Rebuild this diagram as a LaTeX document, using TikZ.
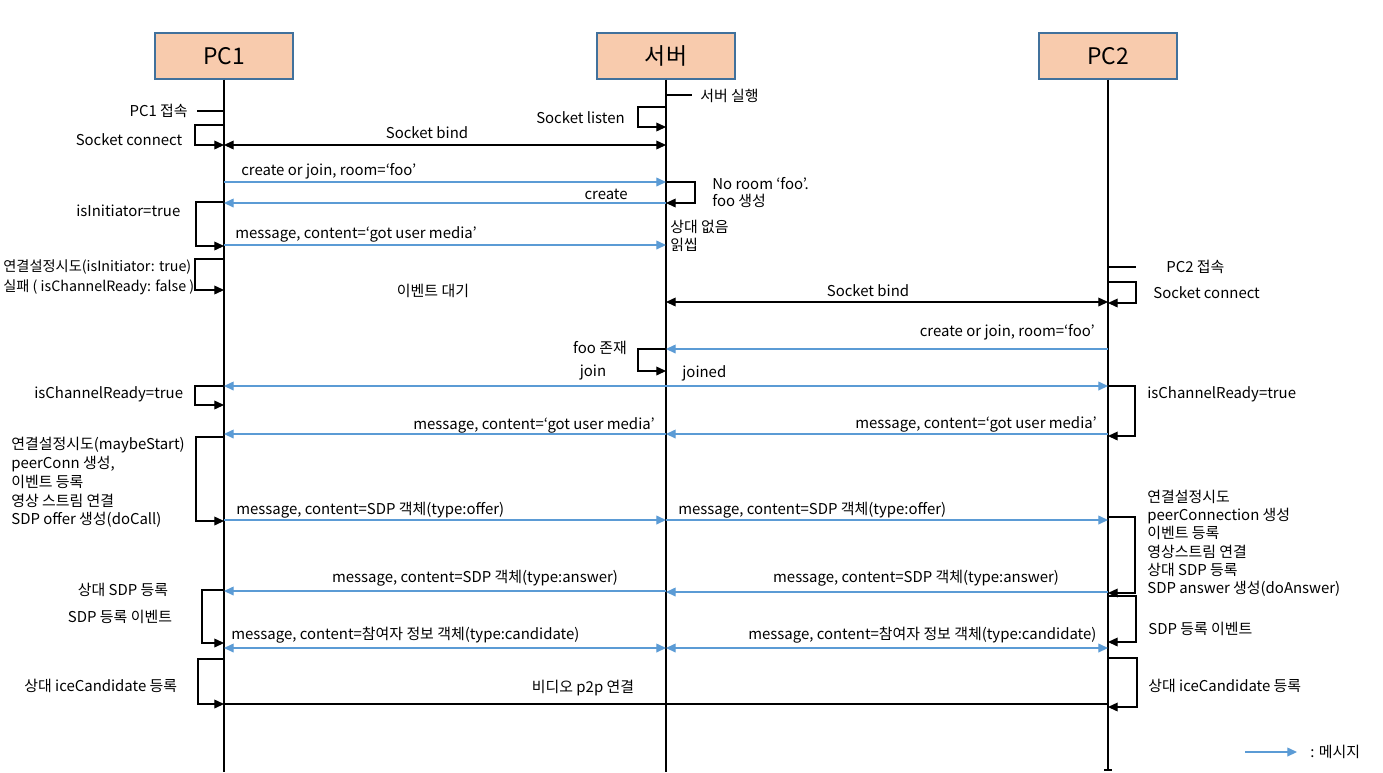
\documentclass[tikz,border=0pt]{standalone}
\usepackage{fontspec}
\setmainfont{Noto Sans CJK KR}
\usepackage{xcolor}
\usepackage{tikz}
\usetikzlibrary{positioning,calc,arrows.meta}

\definecolor{msgblue}{HTML}{5B9BD5}
\definecolor{hdrfill}{HTML}{F8CBAD}
\definecolor{hdrline}{HTML}{41719C}

\tikzset{
  hdr/.style={draw=hdrline, fill=hdrfill, line width=0.6pt, minimum width=2.76cm, minimum height=0.92cm, font=\fontsize{13}{15}\selectfont},
  life/.style={draw, line width=0.6pt},
  msg/.style={draw=msgblue, line width=0.7pt, -{Triangle[length=5.5pt,width=5pt]}},
  msgboth/.style={draw=msgblue, line width=0.7pt, {Triangle[length=5.5pt,width=5pt]}-{Triangle[length=5.5pt,width=5pt]}},
  call/.style={draw, line width=0.6pt, -{Triangle[length=5.5pt,width=5pt]}},
  callboth/.style={draw, line width=0.6pt, {Triangle[length=5.5pt,width=5pt]}-{Triangle[length=5.5pt,width=5pt]}},
  note/.style={font=\fontsize{8.5}{10.5}\selectfont, inner sep=0pt, align=left}
}

\begin{document}
\begin{tikzpicture}[x=0.02cm, y=-0.02cm]
    \useasboundingbox (0,0) rectangle (1383,772);

    % Participants
    \node [hdr] (pc1) at (224,56) {PC1};
    \node [hdr] (srv) at (666,56) {서버};
    \node [hdr] (pc2) at (1108,56) {PC2};

    % Lifelines
    \draw [life] (pc1.south) -- (pc1 |- 0,772);
    \draw [life] (srv.south) -- (srv |- 0,772);
    \draw [life] (pc2.south) -- (pc2 |- 0,770);
    \draw [life] ($(pc2 |- 0,770)+(-4,0)$) -- ($(pc2 |- 0,770)+(4,0)$);

    % Start up
    \draw [life] (pc1 |- 0,111) -- ++(-27,0);
    \node [note, anchor=east] (pc1on) at (188,111) {PC1 접속};
    \draw [life] (srv |- 0,95) -- ++(26,0);
    \node [note, anchor=west] (srvon) at (700,96) {서버 실행};
    \draw [call] (srv |- 0,107) -- ++(-28,0) |- (srv |- 0,127);
    \node [note, anchor=east] (listen) at (625,118) {Socket listen};
    \draw [call] (pc1 |- 0,125) -- ++(-29,0) |- (pc1 |- 0,145);
    \node [note] (conn1) at (129,140) {Socket connect};
    \draw [callboth] (pc1 |- 0,145) -- (srv |- 0,145);
    \node [note] (bind1) at (427,133) {Socket bind};

    % PC1 joins
    \draw [msg] (pc1 |- 0,182) -- (srv |- 0,182);
    \node [note, anchor=west] (coj1) at (241,171) {create or join, room=‘foo’};
    \draw [call] (srv |- 0,182) -- ++(29,0) |- (srv |- 0,203);
    \node [note, anchor=west] (noroom) at (712,184) {No room ‘foo’.};
    \node [note, anchor=west] (foonew) at (712,201) {foo 생성};
    \draw [msg] (srv |- 0,203) -- (pc1 |- 0,203);
    \node [note, anchor=east] (create) at (628,194) {create};
    \draw [call] (pc1 |- 0,202) -- ++(-28,0) |- (pc1 |- 0,246);
    \node [note, anchor=west] (init) at (76,211) {isInitiator=true};
    \draw [msg] (pc1 |- 0,245) -- (srv |- 0,245);
    \node [note, anchor=west] (media1) at (235,234) {message, content=‘got user media’};
    \node [note, anchor=west] (nopeer) at (670,227) {상대 없음};
    \node [note, anchor=west] (ignore) at (670,245) {읽씹};
    \draw [call] (pc1 |- 0,259) -- ++(-29,0) |- (pc1 |- 0,290);
    \node [note, anchor=west, font=\fontsize{8.1}{10}\selectfont] (try1) at (3,267) {연결설정시도(isInitiator: true)};
    \node [note, anchor=west, font=\fontsize{8.1}{10}\selectfont] (fail1) at (3,287) {실패 ( isChannelReady: false )};
    \node [note] (wait) at (433,291) {이벤트 대기};

    % PC2 joins
    \draw [life] (pc2 |- 0,267) -- ++(28,0);
    \node [note, anchor=west] (pc2on) at (1166,267) {PC2 접속};
    \draw [call] (pc2 |- 0,282) -- ++(28,0) |- (pc2 |- 0,303);
    \node [note, anchor=west] (conn2) at (1153,293) {Socket connect};
    \draw [callboth] (srv |- 0,302) -- (pc2 |- 0,302);
    \node [note] (bind2) at (868,291) {Socket bind};
    \draw [msg] (pc2 |- 0,349) -- (srv |- 0,349);
    \node [note, anchor=east] (coj2) at (1095,332) {create or join, room=‘foo’};
    \draw [call] (srv |- 0,349) -- ++(-28,0) |- (srv |- 0,371);
    \node [note] (fooin) at (600,348) {foo 존재};
    \draw [msg] (srv |- 0,386) -- (pc1 |- 0,386);
    \draw [msg] (srv |- 0,386) -- (pc2 |- 0,386);
    \node [note] (join) at (593,373) {join};
    \node [note, anchor=west] (joined) at (682,373) {joined};
    \draw [call] (pc1 |- 0,386) -- ++(-29,0) |- (pc1 |- 0,405);
    \node [note, anchor=west] (ready1) at (34,394) {isChannelReady=true};
    \draw [call] (pc2 |- 0,386) -- ++(27,0) |- (pc2 |- 0,436);
    \node [note, anchor=west] (ready2) at (1147,394) {isChannelReady=true};
    \draw [msg] (pc2 |- 0,434) -- (srv |- 0,434);
    \draw [msg] (srv |- 0,434) -- (pc1 |- 0,434);
    \node [note, anchor=east] (media2) at (1097,424) {message, content=‘got user media’};
    \node [note, anchor=east] (media3) at (655,425) {message, content=‘got user media’};

    % Offer / answer
    \draw [call] (pc1 |- 0,437) -- ++(-28,0) |- (pc1 |- 0,521);
    \node [note, anchor=north west, font=\fontsize{8.5}{10.7}\selectfont] (call1) at (11,437)
        {연결설정시도(maybeStart)\\peerConn 생성,\\이벤트 등록\\영상 스트림 연결\\SDP offer 생성(doCall)};
    \draw [msg] (pc1 |- 0,520) -- (srv |- 0,520);
    \draw [msg] (srv |- 0,520) -- (pc2 |- 0,520);
    \node [note, anchor=west] (offer1) at (236,510) {message, content=SDP 객체(type:offer)};
    \node [note, anchor=west] (offer2) at (678,510) {message, content=SDP 객체(type:offer)};
    \draw [call] (pc2 |- 0,517) -- ++(27,0) |- (pc2 |- 0,593);
    \node [note, anchor=north west, font=\fontsize{8.5}{10.3}\selectfont] (ans2) at (1147,490)
        {연결설정시도\\peerConnection 생성\\이벤트 등록\\영상스트림 연결\\상대 SDP 등록\\SDP answer 생성(doAnswer)};
    \draw [msg] (pc2 |- 0,592) -- (srv |- 0,592);
    \draw [msg] (srv |- 0,591) -- (pc1 |- 0,591);
    \node [note] (answer2) at (916,578) {message, content=SDP 객체(type:answer)};
    \node [note] (answer1) at (475,578) {message, content=SDP 객체(type:answer)};
    \draw [call] (pc1 |- 0,590) -- ++(-22,0) |- (pc1 |- 0,643);
    \node [note] (sdp1) at (123,590) {상대 SDP 등록};
    \node [note] (sdpev1) at (120,617) {SDP 등록 이벤트};
    \draw [call] (pc2 |- 0,596) -- ++(28,0) |- (pc2 |- 0,642);
    \node [note, anchor=west] (sdpev2) at (1148,629) {SDP 등록 이벤트};

    % Candidates
    \draw [msgboth] (pc1 |- 0,648) -- (srv |- 0,648);
    \draw [msgboth] (srv |- 0,648) -- (pc2 |- 0,648);
    \node [note, anchor=west] (cand1) at (231,635) {message, content=참여자 정보 객체(type:candidate)};
    \node [note, anchor=west] (cand2) at (748,635) {message, content=참여자 정보 객체(type:candidate)};
    \draw [call] (pc1 |- 0,659) -- ++(-26,0) |- (pc1 |- 0,704);
    \node [note, anchor=west] (ice1) at (24,686) {상대 iceCandidate 등록};
    \draw [call] (pc2 |- 0,658) -- ++(29,0) |- (pc2 |- 0,707);
    \node [note, anchor=west] (ice2) at (1148,686) {상대 iceCandidate 등록};

    % Video
    \draw [life] (pc1 |- 0,704) -- (pc2 |- 0,704);
    \node [note] (video) at (583,688) {비디오 p2p 연결};

    % Legend
    \coordinate (legA) at (1245,752);
    \draw [msg] (legA) -- ++(52,0);
    \node [note, anchor=west] (legtxt) at (1310,752) {: 메시지};

\end{tikzpicture}
\end{document}
